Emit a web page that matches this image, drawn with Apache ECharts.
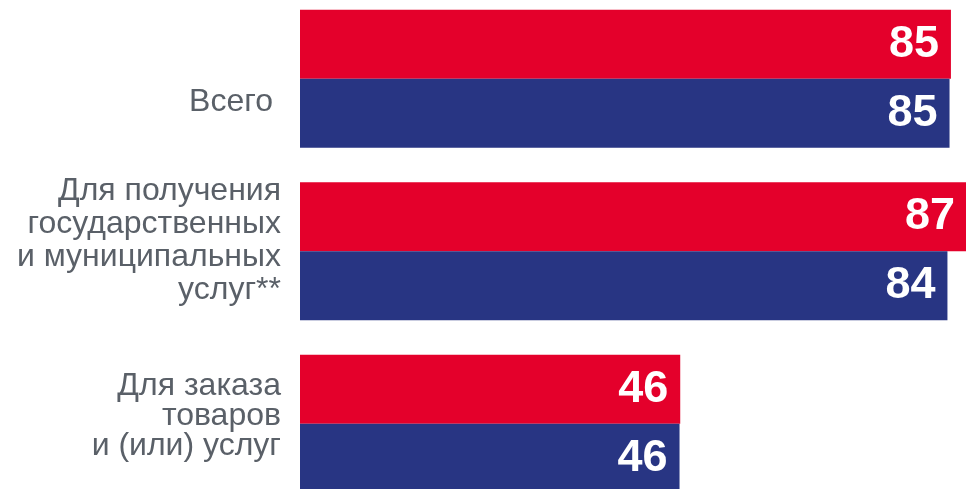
<!DOCTYPE html>
<html>
<head>
<meta charset="utf-8">
<script src="https://cdn.jsdelivr.net/npm/echarts@6/dist/echarts.min.js"></script>
<style>
html, body { margin: 0; padding: 0; background: #fff; }
#main { width: 966px; height: 489px; }
</style>
</head>
<body>
<div id="main"></div>
<script>
const categories = ['Всего', 'Для получения\nгосударственных\nи муниципальных\nуслуг**', 'Для заказа\nтоваров\nи (или) услуг']
const redValues = [84.7, 87.0, 45.9]
const blueValues = [84.5, 84.2, 45.8]

// bars on the slide start a bit left of zero
const BASE = 8.6
const baseData = categories.map(() => BASE)

const FONT = '"Liberation Sans", Arial, sans-serif'
const textColor = '#5a6068'
const red = '#e4002b'
const blue = '#283583'

// each category label sits a bit differently next to its bars
function catLabel(value, index) {
    if (index === 0) return '{sp0| }\n{t0|' + value + '}'
    if (index === 1) return value.split('\n').map(s => '{t1|' + s + '}').join('\n') + '\n{sp1| }'
    return value.split('\n').map(s => '{t2|' + s + '}').join('\n') + '\n{sp2| }'
}

const myChart = echarts.init(document.getElementById('main'))

const valueLabel = {
    show: true,
    position: 'insideRight',
    distance: 12,
    color: '#fff',
    fontFamily: FONT,
    fontWeight: 'bold',
    fontSize: 45,
    formatter: p => Math.round(p.value)
}

myChart.setOption({
    animation: false,
    // width chosen so the base offset lands on a whole pixel (no seam)
    grid: { left: 300, top: -7.5, width: 669.77, height: 517.5, containLabel: false, outerBoundsMode: 'none' },
    xAxis: {
        type: 'value',
        min: 0,
        max: 96,
        show: false
    },
    yAxis: {
        type: 'category',
        inverse: true,
        data: categories,
        axisLine: { show: false },
        axisTick: { show: false },
        splitLine: { show: false },
        axisLabel: {
            margin: 19,
            align: 'right',
            formatter: catLabel,
            rich: {
                t0: { fontFamily: FONT, fontSize: 32, lineHeight: 33, color: textColor, padding: [0, 8, 0, 0] },
                t1: { fontFamily: FONT, fontSize: 32, lineHeight: 33, color: textColor },
                t2: { fontFamily: FONT, fontSize: 32, lineHeight: 30, color: textColor },
                sp0: { fontSize: 1, lineHeight: 46 },
                sp1: { fontSize: 1, lineHeight: 22 },
                sp2: { fontSize: 1, lineHeight: 16 }
            }
        }
    },
    series: [
        {
            type: 'bar', stack: 'r', silent: true, data: baseData,
            itemStyle: { color: red },
            barCategoryGap: '20%', barGap: 0
        },
        {
            name: 'red', type: 'bar', stack: 'r', data: redValues,
            itemStyle: { color: red },
            label: valueLabel,
            barCategoryGap: '20%', barGap: 0
        },
        {
            type: 'bar', stack: 'b', silent: true, data: baseData,
            itemStyle: { color: blue },
            barCategoryGap: '20%', barGap: 0
        },
        {
            name: 'blue', type: 'bar', stack: 'b', data: blueValues,
            itemStyle: { color: blue },
            label: valueLabel,
            barCategoryGap: '20%', barGap: 0
        }
    ]
})
</script>
</body>
</html>
